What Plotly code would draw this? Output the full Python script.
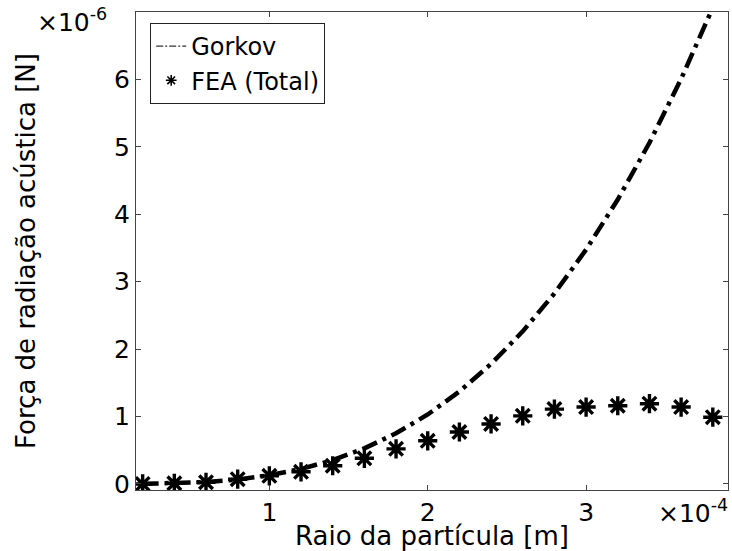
import plotly.graph_objects as go

# Particle radius (units of 1e-4 m)
radius = [0.2, 0.4, 0.6, 0.8, 1.0, 1.2, 1.4, 1.6, 1.8, 2.0,
          2.2, 2.4, 2.6, 2.8, 3.0, 3.2, 3.4, 3.6, 3.8]
# Gorkov acoustic radiation force (units of 1e-6 N)
gorkov = [0.001, 0.008, 0.028, 0.066, 0.129, 0.222, 0.353, 0.527, 0.751, 1.03,
          1.371, 1.780, 2.263, 2.826, 3.476, 4.219, 5.060, 6.007, 7.065]
# FEA (Total) force (units of 1e-6 N)
fea = [0.00, 0.01, 0.025, 0.07, 0.12, 0.18, 0.27, 0.38, 0.52, 0.64,
       0.77, 0.89, 1.01, 1.11, 1.14, 1.16, 1.19, 1.14, 0.99]

x_ticks = [1, 2, 3]
y_ticks = [0, 1, 2, 3, 4, 5, 6, 7]
y_ticklabels = ["0", "1", "2", "3", "4", "5", "6", ""]

FONT = "DejaVu Sans, Liberation Sans, sans-serif"
AX = "#444444"

fig = go.Figure()
fig.add_trace(go.Scatter(
    x=radius, y=gorkov, mode="lines", showlegend=False,
    line=dict(color="black", width=4.5, dash="16px,6px,4px,6px"),
))
fig.add_trace(go.Scatter(
    x=radius, y=fea, mode="markers", showlegend=False,
    marker=dict(symbol="asterisk-open", size=16, color="black",
                line=dict(color="black", width=3.4)),
))
# legend-only entries (thin styles as in the reference legend)
fig.add_trace(go.Scatter(
    x=[None], y=[None], mode="lines", name="Gorkov",
    line=dict(color="black", width=1, dash="7px,2px,2px,2px"),
))
fig.add_trace(go.Scatter(
    x=[None], y=[None], mode="markers", name="FEA (Total)",
    marker=dict(symbol="asterisk-open", size=9, color="black",
                line=dict(color="black", width=1.6)),
))

fig.update_layout(
    width=732, height=551,
    margin=dict(l=136, r=4, t=12, b=61),
    paper_bgcolor="white", plot_bgcolor="white",
    font=dict(family=FONT, size=25, color="black"),
    showlegend=True,
    legend=dict(
        x=0.024, y=0.977, xanchor="left", yanchor="top",
        bgcolor="white", bordercolor="#222222", borderwidth=1,
        font=dict(family=FONT, size=24, color="black"),
        itemwidth=30, tracegroupgap=0,
    ),
    xaxis=dict(
        range=[0.158, 3.896], tickvals=x_ticks, ticktext=[str(v) for v in x_ticks],
        ticks="inside", ticklen=5, tickcolor=AX, showline=True, linecolor=AX,
        linewidth=1, mirror="ticks", showgrid=False, zeroline=False,
        tickfont=dict(size=25),
        title=dict(text="Raio da partícula [m]", font=dict(size=26), standoff=0),
    ),
    yaxis=dict(
        range=[-0.09, 7.0], tickvals=y_ticks, ticktext=y_ticklabels,
        ticks="inside", ticklen=5, tickcolor=AX, showline=True, linecolor=AX,
        linewidth=1, mirror="ticks", showgrid=False, zeroline=False,
        tickfont=dict(size=25),
        title=dict(text="Força de radiação acústica [N]", font=dict(size=26), standoff=70),
    ),
    annotations=[
        dict(text="×10<sup>-6</sup>", xref="paper", yref="paper",
             x=(35 - 136) / 592, y=(490 - 2) / 478,
             xanchor="left", yanchor="top", showarrow=False,
             font=dict(family=FONT, size=25)),
        dict(text="×10<sup>-4</sup>", xref="paper", yref="paper",
             x=1.004, y=-0.006,
             xanchor="right", yanchor="top", showarrow=False,
             font=dict(family=FONT, size=25)),
    ],
)

fig.write_html("out.html")
